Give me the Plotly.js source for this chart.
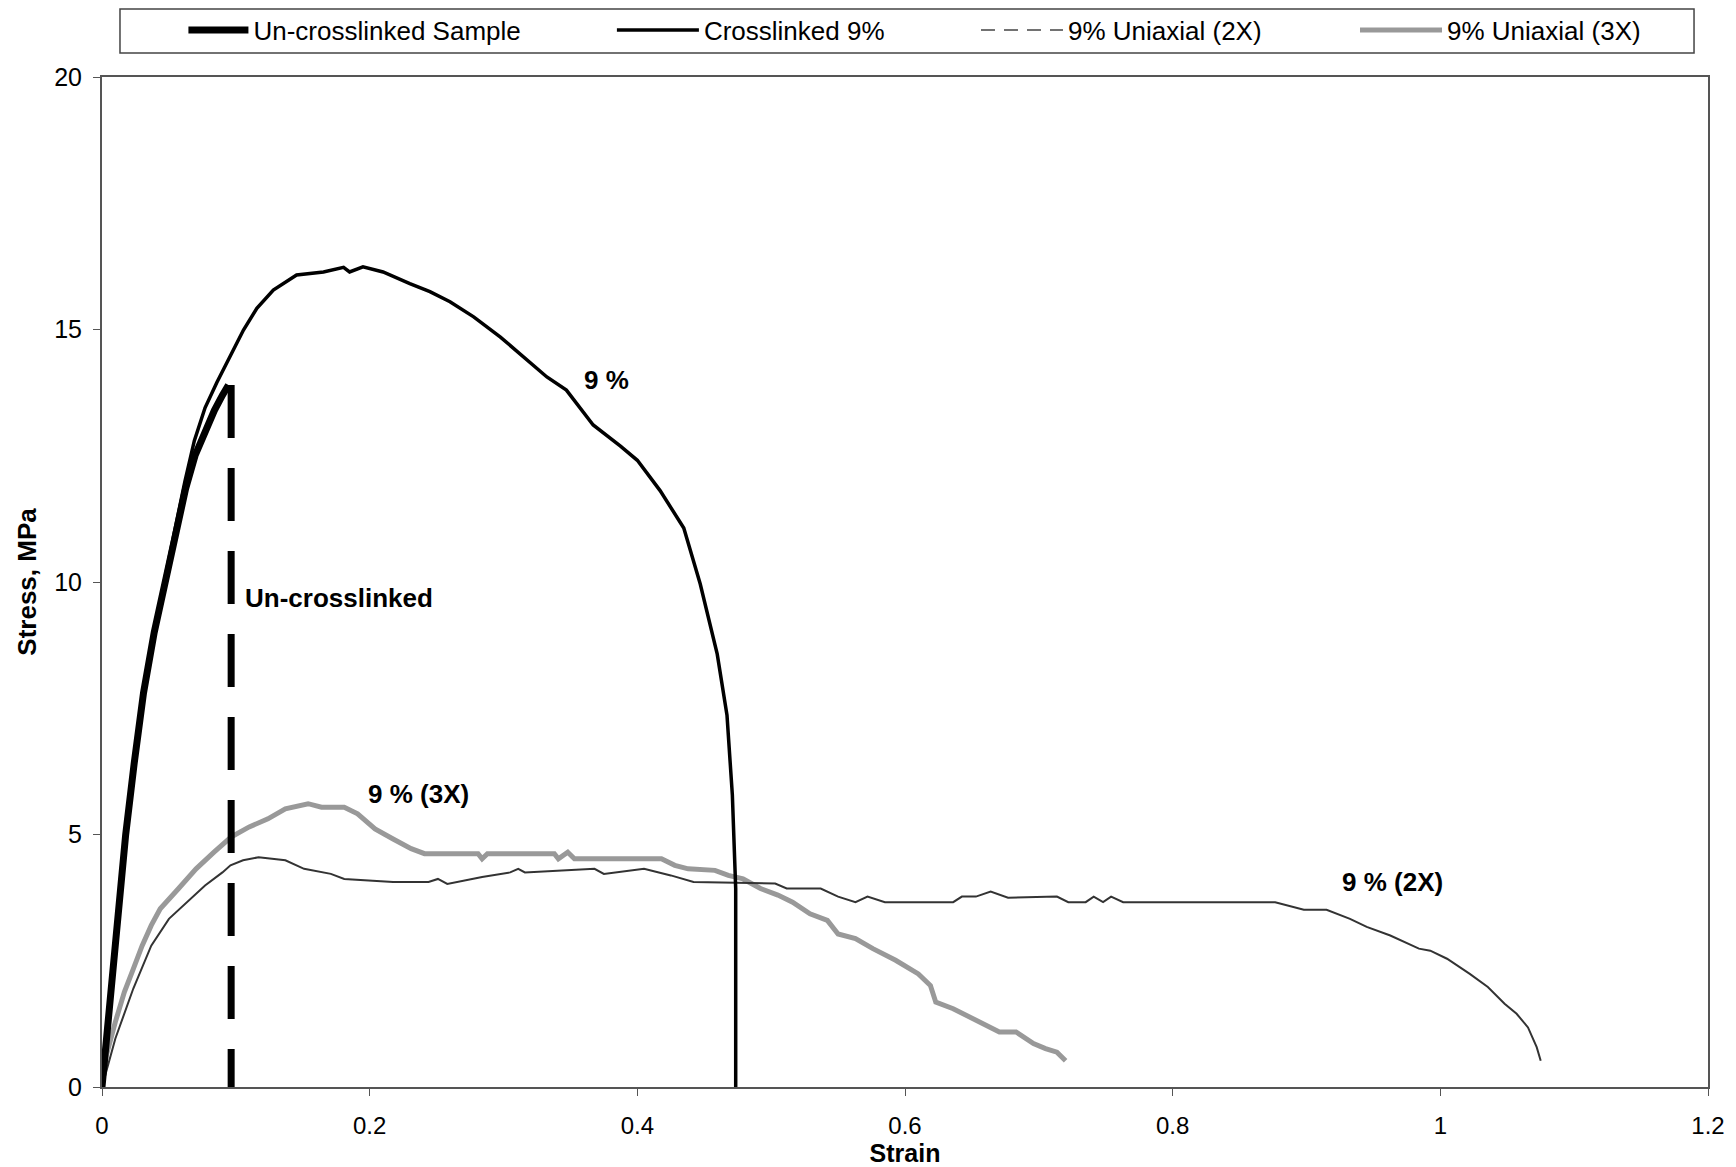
<!DOCTYPE html>
<html>
<head>
<meta charset="utf-8">
<script src="https://cdn.plot.ly/plotly-3.0.1.min.js"></script>
<style>
  html, body { margin: 0; padding: 0; background: #ffffff; }
  #chart { width: 1736px; height: 1167px; }
</style>
</head>
<body>
<div id="chart"></div>
<script>
// ---- Data (strain, stress in MPa) ----
// Un-crosslinked sample: rising part and break drop
const unStrain = [0, 0.004, 0.009, 0.0135, 0.0177, 0.024, 0.031, 0.039, 0.0476, 0.055, 0.0625, 0.0695, 0.077, 0.084, 0.090, 0.0945];
const unStress = [0, 1.2, 2.6, 3.85, 5.0, 6.4, 7.8, 9.0, 10.0, 11.0, 11.85, 12.5, 13.0, 13.4, 13.7, 13.9];
const unBreakStrain = [0.0965, 0.0965];
const unBreakStress = [13.9, 0];

// Crosslinked 9%
const cxStrain = [0, 0.004, 0.009, 0.0135, 0.0177, 0.024, 0.031, 0.039, 0.047, 0.055, 0.062, 0.069, 0.077, 0.0858, 0.0957, 0.1057, 0.1157, 0.128, 0.1454, 0.1655, 0.1805, 0.185, 0.195, 0.210, 0.230, 0.245, 0.260, 0.2777, 0.2977, 0.315, 0.3324, 0.347, 0.367, 0.3874, 0.400, 0.417, 0.4347, 0.447, 0.4597, 0.467, 0.471, 0.4735, 0.4735];
const cxStress = [0, 1.2, 2.6, 3.85, 5.0, 6.4, 7.8, 9.05, 10.1, 11.1, 12.0, 12.8, 13.45, 13.95, 14.46, 14.99, 15.42, 15.78, 16.08, 16.14, 16.23, 16.14, 16.24, 16.14, 15.91, 15.75, 15.55, 15.25, 14.85, 14.46, 14.06, 13.80, 13.11, 12.69, 12.41, 11.81, 11.07, 9.96, 8.57, 7.36, 5.78, 3.93, 0];

// 9% Uniaxial (2X)
const u2Strain = [0, 0.010, 0.0234, 0.0368, 0.050, 0.0636, 0.077, 0.090, 0.096, 0.1054, 0.117, 0.137, 0.151, 0.171, 0.181, 0.2175, 0.244, 0.251, 0.258, 0.284, 0.305, 0.311, 0.316, 0.368, 0.375, 0.405, 0.425, 0.442, 0.503, 0.5116, 0.537, 0.550, 0.563, 0.572, 0.585, 0.636, 0.6425, 0.653, 0.664, 0.677, 0.7135, 0.722, 0.735, 0.741, 0.748, 0.754, 0.763, 0.8766, 0.885, 0.898, 0.915, 0.9325, 0.945, 0.9626, 0.984, 0.9925, 1.005, 1.022, 1.0355, 1.048, 1.057, 1.0655, 1.072, 1.075];
const u2Stress = [0, 0.96, 1.95, 2.80, 3.33, 3.66, 3.99, 4.25, 4.39, 4.49, 4.55, 4.49, 4.32, 4.22, 4.12, 4.06, 4.06, 4.12, 4.02, 4.16, 4.25, 4.32, 4.25, 4.32, 4.22, 4.32, 4.19, 4.06, 4.03, 3.93, 3.93, 3.77, 3.66, 3.77, 3.66, 3.66, 3.77, 3.77, 3.87, 3.75, 3.77, 3.66, 3.66, 3.77, 3.66, 3.77, 3.66, 3.66, 3.60, 3.51, 3.51, 3.33, 3.17, 3.00, 2.74, 2.70, 2.54, 2.24, 1.98, 1.65, 1.45, 1.18, 0.79, 0.52];

// 9% Uniaxial (3X)
const u3Strain = [0, 0.0033, 0.010, 0.0167, 0.0234, 0.030, 0.0368, 0.0435, 0.0569, 0.0703, 0.0837, 0.0964, 0.110, 0.124, 0.137, 0.154, 0.164, 0.181, 0.191, 0.204, 0.2175, 0.231, 0.241, 0.281, 0.284, 0.288, 0.338, 0.341, 0.348, 0.353, 0.418, 0.428, 0.438, 0.458, 0.468, 0.479, 0.492, 0.505, 0.516, 0.529, 0.542, 0.550, 0.563, 0.576, 0.593, 0.610, 0.619, 0.623, 0.636, 0.649, 0.6705, 0.683, 0.696, 0.705, 0.7135, 0.720];
const u3Stress = [0, 0.63, 1.29, 1.88, 2.34, 2.80, 3.20, 3.53, 3.92, 4.32, 4.65, 4.95, 5.15, 5.31, 5.51, 5.61, 5.54, 5.54, 5.41, 5.11, 4.91, 4.72, 4.62, 4.62, 4.52, 4.62, 4.62, 4.52, 4.65, 4.52, 4.52, 4.39, 4.32, 4.29, 4.19, 4.12, 3.93, 3.80, 3.66, 3.43, 3.30, 3.03, 2.94, 2.74, 2.51, 2.24, 2.01, 1.68, 1.55, 1.38, 1.09, 1.09, 0.86, 0.76, 0.69, 0.52];

// Labels
const seriesNames = ['Un-crosslinked Sample', 'Crosslinked 9%', '9% Uniaxial (2X)', '9% Uniaxial (3X)'];
const curveLabels = ['9 %', 'Un-crosslinked', '9 % (3X)', '9 % (2X)'];
const labelStrain = [0.3766, 0.105, 0.2367, 0.9646];
const labelStress = [14.0, 9.68, 5.80, 4.05];
const xTicks = [0, 0.2, 0.4, 0.6, 0.8, 1, 1.2];
const yTicks = [0, 5, 10, 15, 20];

const FONT = 'Liberation Sans, Arial, sans-serif';

const traces = [
  { x: u3Strain, y: u3Stress, mode: 'lines', name: seriesNames[3], legend: 'legend4',
    line: { color: '#999999', width: 5 } },
  { x: u2Strain, y: u2Stress, mode: 'lines', name: seriesNames[2], showlegend: false,
    line: { color: '#333333', width: 2 } },
  { x: [null], y: [null], mode: 'lines', name: seriesNames[2], legend: 'legend3',
    line: { color: '#444444', width: 1.5, dash: '14px,9px' } },
  { x: cxStrain, y: cxStress, mode: 'lines', name: seriesNames[1], legend: 'legend2',
    line: { color: '#000000', width: 3.5 } },
  { x: unStrain, y: unStress, mode: 'lines', name: seriesNames[0], legend: 'legend',
    line: { color: '#000000', width: 7 } },
  { x: unBreakStrain, y: unBreakStress, mode: 'lines', name: seriesNames[0], showlegend: false,
    line: { color: '#000000', width: 7, dash: '53px,30px' } }
];

function legendAt(xp, iw) {
  return {
    x: xp, xanchor: 'left', y: 1.0465, yanchor: 'middle',
    orientation: 'h', bgcolor: 'rgba(0,0,0,0)', borderwidth: 0,
    font: { family: FONT, size: 26, color: '#000' }, itemwidth: iw
  };
}

const annotations = curveLabels.map((t, i) => ({
  x: labelStrain[i], y: labelStress[i], xref: 'x', yref: 'y',
  text: '<b>' + t + '</b>', showarrow: false,
  xanchor: i === 1 ? 'left' : 'center', yanchor: 'middle',
  font: { family: FONT, size: 26, color: '#000' }
}));

const layout = {
  width: 1736, height: 1167,
  margin: { l: 102, r: 28, t: 77, b: 80, autoexpand: false },
  paper_bgcolor: '#ffffff', plot_bgcolor: '#ffffff',
  font: { family: FONT, color: '#000' },
  xaxis: {
    range: [0, 1.2], tickvals: xTicks, ticks: 'outside', ticklen: 7, tickcolor: '#555',
    ticklabelstandoff: 9,
    showline: true, linecolor: '#555', linewidth: 2, mirror: true,
    showgrid: false, zeroline: false,
    tickfont: { family: FONT, size: 24, color: '#000' },
    title: { text: '<b>Strain</b>', font: { family: FONT, size: 25, color: '#000' }, standoff: 3 }
  },
  yaxis: {
    range: [0, 20], tickvals: yTicks, ticks: 'outside', ticklen: 7, tickcolor: '#555',
    ticklabelstandoff: 6,
    showline: true, linecolor: '#555', linewidth: 2, mirror: true,
    showgrid: false, zeroline: false,
    tickfont: { family: FONT, size: 25, color: '#000' },
    title: { text: '<b>Stress, MPa</b>', font: { family: FONT, size: 26, color: '#000' }, standoff: 10 }
  },
  legend: legendAt(0.0507, 60),
  legend2: legendAt(0.3175, 82),
  legend3: legendAt(0.5442, 82),
  legend4: legendAt(0.7802, 82),
  shapes: [{
    type: 'rect', xref: 'paper', yref: 'paper',
    x0: 0.0112, x1: 0.9913, y0: 1.0238, y1: 1.0673,
    line: { color: '#444', width: 1.5 }, fillcolor: 'rgba(0,0,0,0)'
  }],
  annotations: annotations
};

Plotly.newPlot('chart', traces, layout, { staticPlot: true, displayModeBar: false });
</script>
</body>
</html>
